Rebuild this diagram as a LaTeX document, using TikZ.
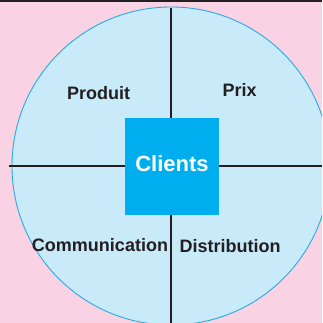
\documentclass[tikz,border=0pt]{standalone}
\usepackage{fontspec}
\setmainfont{Liberation Sans}
\definecolor{pinkbg}{HTML}{F9D3E3}
\definecolor{circfill}{HTML}{C8EAF9}
\definecolor{circline}{HTML}{29ABE2}
\definecolor{sqblue}{HTML}{00AEEF}
\definecolor{darkline}{HTML}{231F20}
\begin{document}
\begin{tikzpicture}[x=1pt,y=1pt,
  axisline/.style={draw=darkline,line width=2.6pt},
  lbl/.style={anchor=base,font=\fontsize{18}{20}\selectfont\bfseries,text=darkline,inner sep=0pt},
  centerbox/.style={fill=sqblue,minimum width=94pt,minimum height=97pt,inner sep=0pt,text=white,font=\fontsize{22}{24}\selectfont\bfseries}]
\useasboundingbox (0,0) rectangle (322,323);
\clip (0,0) rectangle (322,323);
\fill[pinkbg] (0,0) rectangle (322,323);
\draw[darkline,line width=1.6pt] (0,322) -- (322,322);
\node[circle,fill=circfill,draw=circline,line width=0.9pt,minimum size=318pt,inner sep=0pt] (disc) at (171,157) {};
\coordinate (top) at (171,315);
\coordinate (bot) at (171,0);
\coordinate (lft) at (9,157);
\coordinate (rgt) at (322,157);
\draw[axisline] (top) -- (bot);
\draw[axisline] (lft) -- (rgt);
\node[centerbox] (clients) at (172,156.5) {};
\node[anchor=base,text=white,font=\fontsize{22}{24}\selectfont\bfseries,inner sep=0pt] (clientstxt) at (172,151) {Clients};
\node[lbl] (produit) at (98.7,223) {Produit};
\node[lbl] (prix) at (239.7,226.3) {Prix};
\node[lbl] (comm) at (100,71.3) {Communication};
\node[lbl] (distr) at (230,70.7) {Distribution};
\end{tikzpicture}
\end{document}
